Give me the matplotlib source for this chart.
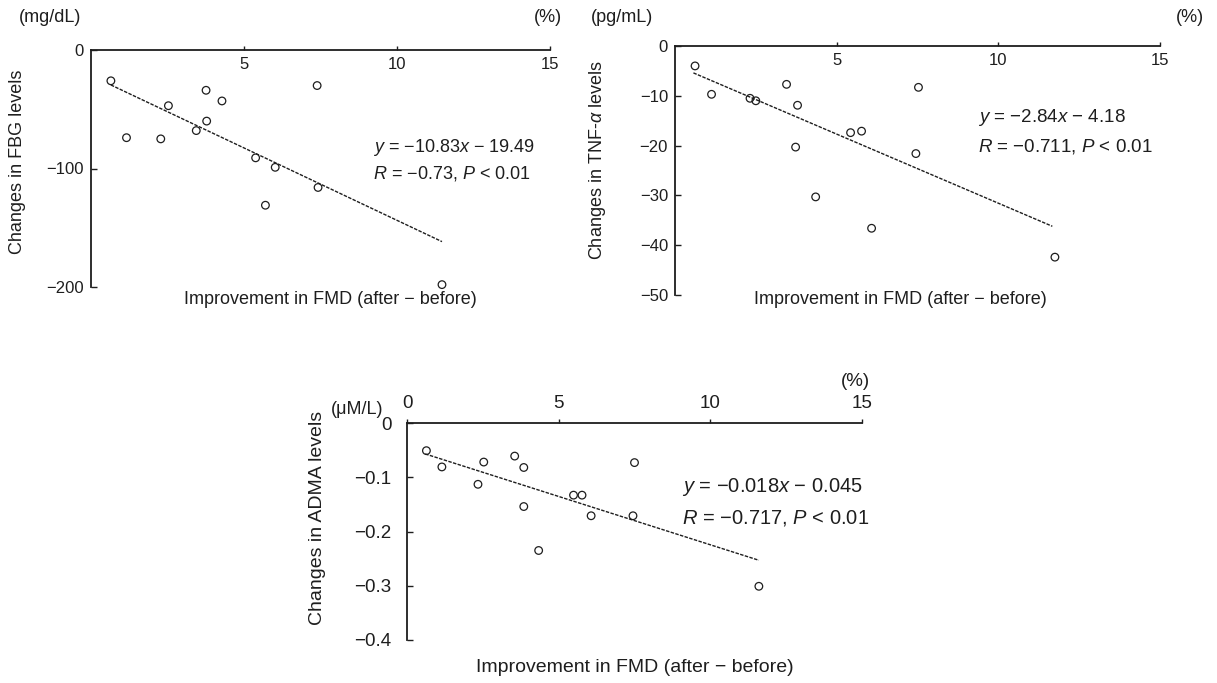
import matplotlib
matplotlib.use("Agg")
from matplotlib import pyplot as plt

plt.rcParams['font.family'] = ['Liberation Sans', 'DejaVu Sans']
plt.rcParams['mathtext.fontset'] = 'custom'
plt.rcParams['mathtext.rm'] = 'Liberation Sans'
plt.rcParams['mathtext.it'] = 'Liberation Sans:italic'

INK = '#1e1e1e'

# FBG panel (mg/dL)
fbg_x = [0.65, 1.16, 2.28, 2.53, 3.44, 3.78, 3.76, 4.28, 5.38, 6.02, 5.70, 7.39, 7.42, 11.47]
fbg_y = [-26, -74, -75, -47, -68, -60, -34, -43, -91, -99, -131, -30, -116, -198]
fbg_fit_x = [0.65, 11.47]
fbg_fit_y = [-29.5, -161.7]

# TNF-alpha panel (pg/mL)
tnf_x = [0.62, 1.13, 2.32, 2.50, 3.45, 3.79, 3.73, 4.35, 5.43, 5.77, 6.08, 7.53, 7.45, 11.75]
tnf_y = [-4.0, -9.7, -10.5, -11.0, -7.7, -11.9, -20.3, -30.3, -17.4, -17.1, -36.6, -8.3, -21.6, -42.4]
tnf_fit_x = [0.57, 11.67]
tnf_fit_y = [-5.4, -36.2]

# ADMA panel (uM/L)
adma_x = [0.64, 1.15, 2.53, 2.34, 3.55, 3.85, 3.85, 4.34, 5.49, 5.77, 6.07, 7.50, 7.45, 11.60]
adma_y = [-0.051, -0.081, -0.072, -0.113, -0.061, -0.082, -0.154, -0.235, -0.133, -0.133,
          -0.171, -0.073, -0.171, -0.301]
adma_fit_x = [0.60, 11.60]
adma_fit_y = [-0.057, -0.253]

W, H = 1217, 683
fig = plt.figure(figsize=(W / 100, H / 100), dpi=100)


def rect(x0, y0, x1, y1):
    # pixel box -> figure fraction
    return [x0 / W, 1 - y1 / H, (x1 - x0) / W, (y1 - y0) / H]


def ftext(x, y, s, **kw):
    kw.setdefault('color', INK)
    kw.setdefault('fontsize', 13)
    fig.text(x / W, 1 - y / H, s, **kw)


def panel(box, xs, ys, fx, fy, ymin, yticks, ylabels, xticks, xlabels, labels_below, fs=12, ypad=5):
    ax = fig.add_axes(rect(*box))
    ax.plot(fx, fy, color=INK, lw=1.0, ls=(0, (2.5, 1)))
    ax.scatter(xs, ys, s=30, facecolors='none', edgecolors=INK, linewidths=0.9, clip_on=False, zorder=3)
    ax.set_xlim(0, 15)
    ax.set_ylim(ymin, 0)
    for side in ('right', 'bottom'):
        ax.spines[side].set_visible(False)
    for side in ('top', 'left'):
        ax.spines[side].set_color(INK)
        ax.spines[side].set_linewidth(1.3)
    ax.set_yticks(yticks, ylabels)
    ax.set_xticks(xticks, xlabels)
    ax.tick_params(axis='y', direction='in', length=4, width=1, pad=ypad, labelsize=fs, colors=INK)
    ax.tick_params(axis='x', top=True, bottom=False, labeltop=True, labelbottom=False,
                   direction='out', length=3, width=1, labelsize=fs, colors=INK,
                   pad=-19 if labels_below else 5)
    return ax


panel((91, 50, 550, 287), fbg_x, fbg_y, fbg_fit_x, fbg_fit_y, -200,
      [0, -100, -200], ['0', '\u2212100', '\u2212200'],
      [5, 10, 15], ['5', '10', '15'], True)
panel((675, 46, 1160, 295), tnf_x, tnf_y, tnf_fit_x, tnf_fit_y, -50,
      [0, -10, -20, -30, -40, -50], ['0', '\u221210', '\u221220', '\u221230', '\u221240', '\u221250'],
      [5, 10, 15], ['5', '10', '15'], True)
panel((407, 423, 862, 640), adma_x, adma_y, adma_fit_x, adma_fit_y, -0.4,
      [0, -0.1, -0.2, -0.3, -0.4], ['0', '\u22120.1', '\u22120.2', '\u22120.3', '\u22120.4'],
      [0, 5, 10, 15], ['0', '5', '10', '15'], False, fs=13.5, ypad=11)

# units
ftext(50, 18, '(mg/dL)', ha='center', va='center')
ftext(548, 18, '(%)', ha='center', va='center')
ftext(622, 18, '(pg/mL)', ha='center', va='center')
ftext(1190, 18, '(%)', ha='center', va='center')
ftext(357, 409, '(\u03bcM/L)', ha='center', va='center')
ftext(855, 382, '(%)', ha='center', va='center', fontsize=13.5)

# regression text
ftext(373, 148, '$y$ = \u221210.83$x$ \u2212 19.49', va='center')
ftext(373, 174, '$R$ = \u22120.73, $P$ < 0.01', va='center')
ftext(978, 117, '$y$ = \u22122.84$x$ \u2212 4.18', va='center', fontsize=13.5)
ftext(978, 146, '$R$ = \u22120.711, $P$ < 0.01', va='center', fontsize=13.5)
ftext(682, 487, '$y$ = \u22120.018$x$ \u2212 0.045', va='center', fontsize=14.5)
ftext(682, 518, '$R$ = \u22120.717, $P$ < 0.01', va='center', fontsize=14.5)

# axis titles
ftext(330, 300, 'Improvement in FMD (after \u2212 before)', ha='center', va='center')
ftext(900, 300, 'Improvement in FMD (after \u2212 before)', ha='center', va='center')
ftext(635, 668, 'Improvement in FMD (after \u2212 before)', ha='center', va='center', fontsize=14)
ftext(18, 162, 'Changes in FBG levels', ha='center', va='center', rotation=90)
ftext(598, 160, 'Changes in TNF-$\\alpha$ levels', ha='center', va='center', rotation=90)
ftext(318, 518, 'Changes in ADMA levels', ha='center', va='center', rotation=90, fontsize=14)

fig.savefig('out.png', dpi=100)
